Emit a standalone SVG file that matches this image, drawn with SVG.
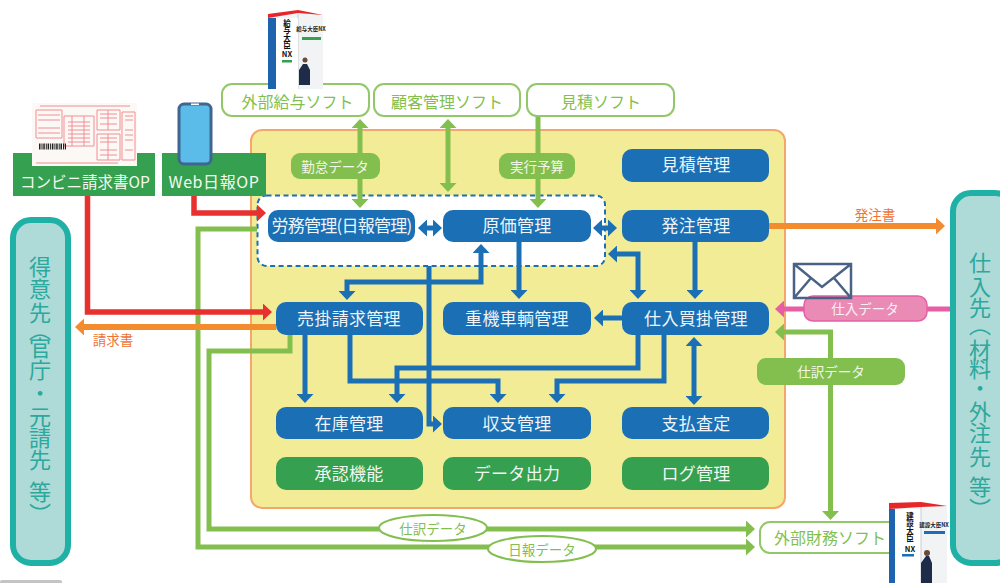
<svg xmlns="http://www.w3.org/2000/svg" width="1000" height="583" viewBox="0 0 1000 583">
<style>
text{font-family:"Noto Sans CJK JP","Noto Sans",sans-serif;text-anchor:middle;dominant-baseline:central}
.b rect{fill:#1a6fb5}.g rect{fill:#35a04f}
.b text,.g text{fill:#fff;font-size:17px;letter-spacing:.3px;opacity:.93}
.s rect{fill:#fff;stroke:#93c86a;stroke-width:2}
.s text{fill:#83bf4f;font-size:16px}
.p rect{fill:#83bf4f}.p text{fill:#f2f7e6;font-size:13.5px}
.e ellipse{fill:#fff;stroke:#83bf4f;stroke-width:2}.e text{fill:#83bf4f;font-size:13.5px}
.op rect{fill:#35a04f}.op text{fill:#f4faf0;font-size:16px}
.side rect{fill:#aedad8;stroke:#1fb1a6;stroke-width:6}
.side text{fill:#2ca89c;font-size:22px;writing-mode:vertical-rl;text-anchor:start;dominant-baseline:central}
.lbl{fill:#ee7436;font-size:13.5px}
#conn path{fill:none}
.cb{stroke:#1a6fb5;stroke-width:5}.cg{stroke:#83bf4f;stroke-width:5}.cr{stroke:#e8302f;stroke-width:5.5}.co{stroke:#f28c2e;stroke-width:6}.cp{stroke:#e65fa5;stroke-width:5}
.inv{fill:none;stroke:#f0858c;stroke-width:.9}
.vt{writing-mode:vertical-rl;font-weight:700;fill:#111;font-size:7.5px}
</style>
<defs>
<marker id="mb" viewBox="0 0 9 17" refX=".5" refY="8.5" markerWidth="9" markerHeight="17" markerUnits="userSpaceOnUse" orient="auto-start-reverse"><path d="M0 0L9 8.5L0 17Z" fill="#1a6fb5"/></marker>
<marker id="mg" viewBox="0 0 9 17" refX=".5" refY="8.5" markerWidth="9" markerHeight="17" markerUnits="userSpaceOnUse" orient="auto-start-reverse"><path d="M0 0L9 8.5L0 17Z" fill="#83bf4f"/></marker>
<marker id="mr" viewBox="0 0 9 17" refX=".5" refY="8.5" markerWidth="9" markerHeight="17" markerUnits="userSpaceOnUse" orient="auto-start-reverse"><path d="M0 0L9 8.5L0 17Z" fill="#e8302f"/></marker>
<marker id="mo" viewBox="0 0 9 17" refX=".5" refY="8.5" markerWidth="9" markerHeight="17" markerUnits="userSpaceOnUse" orient="auto-start-reverse"><path d="M0 0L9 8.5L0 17Z" fill="#f28c2e"/></marker>
<marker id="mp" viewBox="0 0 9 17" refX=".5" refY="8.5" markerWidth="9" markerHeight="17" markerUnits="userSpaceOnUse" orient="auto-start-reverse"><path d="M0 0L9 8.5L0 17Z" fill="#e65fa5"/></marker>
</defs>
<rect width="1000" height="583" fill="#fff"/>
<rect x="0" y="580" width="62" height="5" rx="2" fill="#c4c4c4"/>
<rect id="panel" x="251" y="130" width="534" height="378" rx="11" fill="#f3ec97" stroke="#f5a66b" stroke-width="2"/>
<rect id="dash" x="257.500" y="195.500" width="347.500" height="70.500" rx="9" fill="#fff" stroke="#1a6fb5" stroke-width="2" stroke-dasharray="5 3.500"/>
<g id="conn">
<path class="cg" d="M360 127.500V199.500" marker-start="url(#mg)" marker-end="url(#mg)"/>
<path class="cg" d="M448 127.500V183.500" marker-start="url(#mg)" marker-end="url(#mg)"/>
<path class="cg" d="M538 116V199.500" marker-end="url(#mg)"/>
<path class="cg" d="M257 229H198V547H746.500" marker-end="url(#mg)"/>
<path class="cg" d="M290 335V351H209V529H746.500" marker-end="url(#mg)"/>
<path class="cg" d="M783.500 332H830.500V511.500" marker-start="url(#mg)" marker-end="url(#mg)"/>
<path class="cr" d="M87.500 196V312H263.500" marker-end="url(#mr)"/>
<path class="cr" d="M194 196V213H257.500" marker-end="url(#mr)"/>
<path class="co" d="M769 226H936.500" marker-end="url(#mo)"/>
<path class="co" d="M276 327H83.500" marker-end="url(#mo)"/>
<path class="cp" d="M950 309H783.500" marker-end="url(#mp)"/>
<path class="cb" d="M426.500 228H433.500" marker-start="url(#mb)" marker-end="url(#mb)"/>
<path class="cb" d="M601.500 228H608.500" marker-start="url(#mb)" marker-end="url(#mb)"/>
<path class="cb" d="M519 242V290.500" marker-end="url(#mb)"/>
<path class="cb" d="M695 242V290.500" marker-end="url(#mb)"/>
<path class="cb" d="M616.500 254H638V290.500" marker-start="url(#mb)" marker-end="url(#mb)"/>
<path class="cb" d="M622 318H602.500" marker-end="url(#mb)"/>
<path class="cb" d="M481 252.500V282H347V291.500" marker-start="url(#mb)" marker-end="url(#mb)"/>
<path class="cb" d="M429 266V424H433.500" marker-end="url(#mb)"/>
<path class="cb" d="M305 335V394.500" marker-end="url(#mb)"/>
<path class="cb" d="M350 335V381H498V394.500" marker-end="url(#mb)"/>
<path class="cb" d="M638 335V368H397V394.500" marker-end="url(#mb)"/>
<path class="cb" d="M664 335V381H557V394.500" marker-end="url(#mb)"/>
<path class="cb" d="M694 345.500V396.500" marker-start="url(#mb)" marker-end="url(#mb)"/>
</g>
<g id="n-roumu" class="b"><rect x="268" y="210" width="147" height="32" rx="10"/><text x="342" y="224.500" textLength="141" lengthAdjust="spacing">労務管理(日報管理)</text></g>
<g id="n-genka" class="b"><rect x="443" y="210" width="148" height="32" rx="10"/><text x="517" y="224.500">原価管理</text></g>
<g id="n-mitsumori" class="b"><rect x="622" y="149" width="147" height="33" rx="10"/><text x="696" y="163.500">見積管理</text></g>
<g id="n-hatchu" class="b"><rect x="622" y="210" width="147" height="32" rx="10"/><text x="696" y="224.500">発注管理</text></g>
<g id="n-urikake" class="b"><rect x="276" y="302" width="147" height="33" rx="10"/><text x="349" y="317.500">売掛請求管理</text></g>
<g id="n-juki" class="b"><rect x="443" y="302" width="148" height="33" rx="10"/><text x="517" y="317.500">重機車輌管理</text></g>
<g id="n-shiire" class="b"><rect x="622" y="302" width="147" height="33" rx="10"/><text x="696" y="317.500">仕入買掛管理</text></g>
<g id="n-zaiko" class="b"><rect x="276" y="407" width="147" height="32" rx="10"/><text x="349" y="422.500">在庫管理</text></g>
<g id="n-shushi" class="b"><rect x="443" y="407" width="148" height="32" rx="10"/><text x="517" y="422.500">収支管理</text></g>
<g id="n-shiharai" class="b"><rect x="622" y="407" width="147" height="32" rx="10"/><text x="696" y="422.500">支払査定</text></g>
<g id="n-shonin" class="g"><rect x="276" y="457" width="147" height="33" rx="10"/><text x="349" y="472.500">承認機能</text></g>
<g id="n-data" class="g"><rect x="443" y="457" width="148" height="33" rx="10"/><text x="517" y="472.500">データ出力</text></g>
<g id="n-log" class="g"><rect x="622" y="457" width="147" height="33" rx="10"/><text x="696" y="472.500">ログ管理</text></g>
<g id="n-kyuyo" class="s"><rect x="222" y="84" width="147" height="32" rx="10"/><text x="297.500" y="100.500">外部給与ソフト</text></g>
<g id="n-kokyaku" class="s"><rect x="374" y="84" width="146" height="32" rx="10"/><text x="447" y="100.500">顧客管理ソフト</text></g>
<g id="n-mitsumorisoft" class="s"><rect x="527" y="84" width="147" height="32" rx="10"/><text x="601" y="100.500">見積ソフト</text></g>
<g id="n-zaimu" class="s"><rect x="760" y="522" width="140" height="31" rx="10"/><text x="830" y="537">外部財務ソフト</text></g>
<g id="l-kintai" class="p"><rect x="291" y="153" width="89" height="26" rx="9"/><text x="335" y="165.500">勤怠データ</text></g>
<g id="l-jikko" class="p"><rect x="499" y="153" width="76" height="26" rx="9"/><text x="537" y="165.500">実行予算</text></g>
<g id="l-shiwake" class="p"><rect x="757" y="358" width="148" height="27" rx="9"/><text x="831" y="370.500">仕訳データ</text></g>
<g id="l-shiiredata"><rect x="804" y="296" width="123" height="25" rx="9" fill="#ea8bb6" stroke="#e65fa5" stroke-width="1.500"/>
<path d="M794 264H851V298H794ZM794 264L822 287L851 264M794 298L811 278M851 298L834 278" fill="none" stroke="#4a6285" stroke-width="2.500"/>
<text x="865" y="308" fill="#fdeef5" font-size="13.500">仕入データ</text></g>
<g id="l-shiwake2" class="e"><ellipse cx="433" cy="528" rx="54" ry="13"/><text x="433" y="528">仕訳データ</text></g>
<g id="l-nippo" class="e"><ellipse cx="542" cy="549" rx="54" ry="13"/><text x="542" y="549">日報データ</text></g>
<text class="lbl" x="875" y="214">発注書</text>
<text class="lbl" x="113" y="339">請求書</text>
<g id="n-tokui" class="side"><rect x="13" y="220" width="55" height="343" rx="18"/><text x="40" y="256 278 302 319 337 359 382 406 427 449 470 481 503">得意先（官庁・元請先 等）</text></g>
<g id="n-shiiresaki" class="side"><rect x="953" y="193" width="60" height="370" rx="18"/><text x="980" y="252 276 297 314 339 358 377 401 422 446 465 476 498">仕入先（材料・外注先 等）</text></g>
<g id="n-conv" class="op"><rect x="13" y="153" width="142" height="43"/><text x="85" y="181" style="font-size:15.500px">コンビニ請求書OP</text>
<rect x="32" y="103" width="105" height="63" style="fill:#fbf8f5"/>
<path class="inv" d="M36 110H62V138H36ZM64 116H94V146H64ZM97 110H120V130H97ZM122 112H135V160H122ZM97 134H120V160H97ZM38 115H60M38 120H60M38 128H60M38 133H60M68 122H90M68 126H90M68 130H90M68 134H90M68 138H90M68 142H90M100 114H117M100 118H117M100 124H117M100 138H117M100 142H117M100 150H117M100 155H117M125 116H133M125 120H133M125 130H133M125 135H133M125 140H133M125 150H133M40 106H130M36 163H118M72 116V146M84 116V146M108 110V130M108 134V160"/>
<path d="M39 146.500H66" stroke="#222" stroke-width="6" stroke-dasharray="1.500 1 1 .8" fill="none"/></g>
<g id="n-web" class="op"><rect x="162" y="153" width="104" height="43"/><text x="214" y="181" style="letter-spacing:.6px">Web日報OP</text>
<rect x="179" y="104" width="32" height="60" rx="5" style="fill:#5bbcea;stroke:#3f6690;stroke-width:3"/><rect x="191" y="103.500" width="8" height="1.500" style="fill:#fff"/></g>
<g id="box1"><path d="M268 14L298 11L323 15V89H268Z" fill="#f1f3f4"/><path d="M268 14L298 10L323 15L298 13L268 18Z" fill="#e8262a"/><rect x="268" y="18" width="8" height="71" fill="#1d63ae"/><path d="M298 13V89" stroke="#c9ced2" stroke-width="1"/><rect x="276" y="18" width="22" height="71" fill="#fff"/>
<text class="vt" x="287" y="34">給与大臣</text><text x="287" y="53" font-size="7.500" font-weight="700" fill="#111">NX</text>
<rect x="282" y="60" width="10" height="2.500" fill="#35a04f"/><text x="311" y="29" font-size="5.500" font-weight="700" fill="#222">給与大臣NX</text><rect x="302" y="37" width="19" height="3" fill="#35a04f"/>
<path d="M299 85V70L303 64H307L310 70V85Z" fill="#1e2c4a"/><circle cx="305" cy="60" r="2.500" fill="#6b4a35"/></g>
<g id="box2"><path d="M889 503L921 502L947 506V583H889Z" fill="#f1f3f4"/><path d="M889 503L921 502L947 506L921 507L889 509Z" fill="#e8262a"/><rect x="889" y="509" width="6" height="74" fill="#1d63ae"/><rect x="895" y="509" width="26" height="74" fill="#fff"/><path d="M921 507V583" stroke="#c9ced2" stroke-width="1"/>
<text class="vt" x="910" y="527">建設大臣</text><text x="910" y="548" font-size="7.500" font-weight="700" fill="#111">NX</text>
<rect x="902" y="554" width="12" height="2.500" fill="#1a6fb5"/><text x="934" y="525" font-size="5.500" font-weight="700" fill="#222">建設大臣NX</text><rect x="924" y="531" width="21" height="3" fill="#1a6fb5"/>
<path d="M921 583V563L926 556H929L932 563V583Z" fill="#1e2c4a"/><circle cx="927" cy="553" r="3" fill="#6b4a35"/></g>
</svg>
